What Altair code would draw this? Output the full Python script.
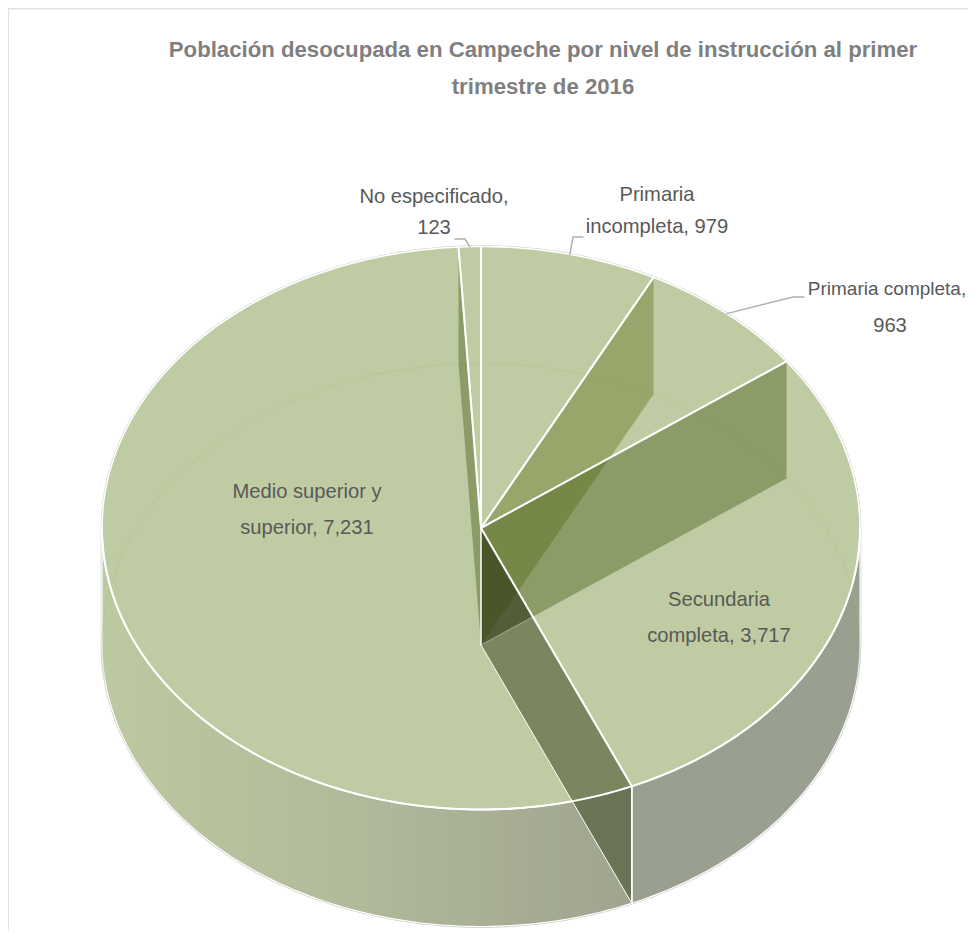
import math
import altair as alt

# ---- data ----
categories = ["Primaria incompleta", "Primaria completa", "Secundaria completa",
              "Medio superior y superior", "No especificado"]
values = [979, 963, 3717, 7231, 123]
title_lines = ["Población desocupada en Campeche por nivel de instrucción al primer",
               "trimestre de 2016"]

# ---- layout of the tilted pie (pixels of the page) ----
PAGE = 8
CX, CY, RX, RY, DEPTH = 481, 528, 379, 281.5, 117
FONT = "Liberation Sans"

total = sum(values)
edges = [0.0]
for v in values:
    edges.append(edges[-1] + 360.0 * v / total)


def rim(deg, drop=0.0):
    t = math.radians(deg)
    return [RX * math.sin(t), -RY * math.cos(t) + drop]


def arc(a, b, drop=0.0):
    n = max(2, int(abs(b - a)) + 1)
    return [rim(a + (b - a) * i / n, drop) for i in range(n + 1)]


def poly(points):
    pts = list(points) + [points[0]]
    return {"type": "Feature", "properties": {}, "geometry": {"type": "Polygon", "coordinates": [pts]}}


def path(points):
    return {"type": "Feature", "properties": {}, "geometry": {"type": "LineString", "coordinates": [list(p) for p in points]}}


def shape(features, **mark):
    data = alt.Data(values={"type": "FeatureCollection", "features": features},
                    format=alt.DataFormat(property="features"))
    return alt.Chart(data).mark_geoshape(**mark).project(
        type="identity", scale=1, translate=[CX - PAGE, CY - PAGE])


def line(points, color="white", width=1.5, opacity=1.0):
    return shape([path(points)], filled=False, fill="transparent", stroke=color,
                 strokeWidth=width, strokeOpacity=opacity, strokeCap="round")


def text(s, x, y, size, color, bold=False):
    return alt.Chart(alt.Data(values=[{"t": s}])).mark_text(
        font=FONT, fontSize=size, color=color, align="center", baseline="middle",
        fontWeight="bold" if bold else "normal"
    ).encode(x=alt.value(x - PAGE), y=alt.value(y - PAGE), text="t:N")


def wall(deg):
    top = rim(deg)
    return [[0, 0], top, rim(deg, DEPTH), [0, DEPTH]]


TOP = "#bfcba2"
e = edges
layers = []

# chart frame
layers.append(alt.Chart(alt.Data(values=[{"a": 0}])).mark_rule(color="#e2e2e2", strokeWidth=2).encode(
    x=alt.value(0), x2=alt.value(960), y=alt.value(0.5)))
layers.append(alt.Chart(alt.Data(values=[{"a": 0}])).mark_rule(color="#e2e2e2", strokeWidth=2).encode(
    x=alt.value(0), y=alt.value(0), y2=alt.value(923)))

# silhouette, outer faces
sil = arc(-90, 90) + arc(90, 270, DEPTH)
layers.append(shape([poly(sil)], fill="white", stroke="#c9c9c9", strokeWidth=2.5))
a_end = e[3]
medio_side = arc(a_end, 270) + arc(270, a_end, DEPTH)
sec_side = arc(90, a_end) + arc(a_end, 90, DEPTH)
layers.append(shape([poly(sec_side)], fill="#9aa08f", stroke="white", strokeWidth=1.2))
layers.append(shape([poly(medio_side)], stroke="white", strokeWidth=1.2, fill=alt.Gradient(
    gradient="linear", x1=0, x2=1, y1=0, y2=0,
    stops=[alt.GradientStop(offset=0, color="#bdc9a0"),
           alt.GradientStop(offset=0.5, color="#b0b99a"),
           alt.GradientStop(offset=1, color="#9fa48f")])))

# top faces
faces = []
for i in range(len(values)):
    faces.append(poly([[0, 0]] + arc(e[i], e[i + 1])))
layers.append(shape(faces, fill=TOP, stroke="white", strokeWidth=1.6))

# faint far rim of the base
layers.append(line(arc(-97, 97, DEPTH), color="#aab58c", width=1, opacity=0.3))

# inner walls seen through the faces
layers.append(shape([poly(wall(e[2]))], fill="#2d4400", fillOpacity=0.35))
layers.append(shape([poly(wall(e[1]))], fill="#4d6408", fillOpacity=0.35))
layers.append(shape([poly(wall(e[4]))], fill="#2d4400", fillOpacity=0.35))
layers.append(shape([poly(wall(e[3]))], fill="#35411c", fillOpacity=0.5))

# where the lower edge of the wall meets the boundary line
bx, by = rim(e[2], DEPTH)
tx, ty = rim(e[3])
k = DEPTH / (ty / tx - (by - DEPTH) / bx)
layers.append(shape([poly([[0, 0], [0, DEPTH], [k, k * ty / tx]])], fill="black", fillOpacity=0.15))

# white edges
for d in e[:-1]:
    layers.append(line([[0, 0], rim(d)], width=2))
layers.append(line(arc(90, 270), width=2))
layers.append(line([[0, 0], [0, DEPTH]], width=1.5))
layers.append(line([[0, DEPTH], rim(e[3], DEPTH)], width=1))
layers.append(line([rim(e[3]), rim(e[3], DEPTH)], width=1.5))
layers.append(line([[0, DEPTH], [k, k * ty / tx]], width=1, opacity=0.4))

# leader lines
GREY = "#b0b0b0"
mid0 = (e[0] + e[1]) / 2
mid1 = (e[1] + e[2]) / 2
mid4 = (e[4] + e[5]) / 2
layers.append(line([[455 - CX, 239 - CY], [465 - CX, 239 - CY], rim(mid4)], color=GREY, width=1.5))
layers.append(line([[583 - CX, 237 - CY], [573 - CX, 237 - CY], rim(mid0)], color=GREY, width=1.5))
layers.append(line([[804 - CX, 297 - CY], [793 - CX, 297 - CY], rim(mid1)], color=GREY, width=1.5))

# texts
TXT = "#595959"
GREYT = "#7f7f7f"
S = 20.2
layers.append(text(title_lines[0], 543, 50, 22.2, GREYT, True))
layers.append(text(title_lines[1], 543, 87, 22.2, GREYT, True))
layers.append(text("No especificado,", 434, 197, S, TXT))
layers.append(text(f"{values[4]:,}", 434, 228, S, TXT))
layers.append(text("Primaria", 657, 195, S, TXT))
layers.append(text(f"incompleta, {values[0]:,}", 657, 227, S, TXT))
layers.append(text("Primaria completa,", 887, 289, 19, TXT))
layers.append(text(f"{values[1]:,}", 890, 326, S, TXT))
layers.append(text("Medio superior y", 307, 492, S, TXT))
layers.append(text(f"superior, {values[3]:,}", 307, 528, S, TXT))
layers.append(text("Secundaria", 719, 600, S, TXT))
layers.append(text(f"completa, {values[2]:,}", 719, 636, S, TXT))

chart = alt.layer(*layers).properties(
    width=960, height=923, padding=0, background="white",
    autosize=alt.AutoSizeParams(type="none")
).configure_view(stroke=None)

chart.save("out.html", embed_options={"renderer": "svg", "actions": False})
